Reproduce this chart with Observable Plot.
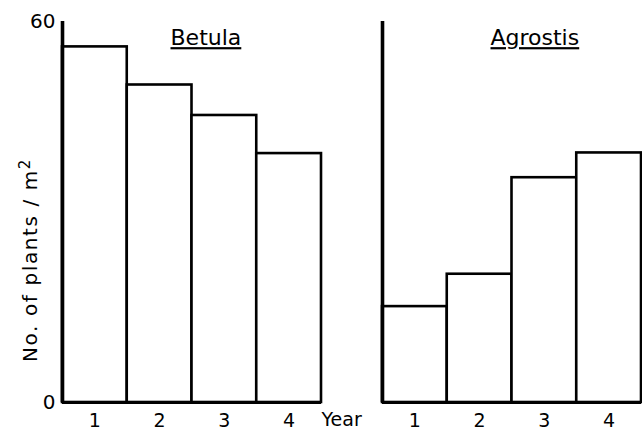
<!DOCTYPE html>
<html>
<head>
<meta charset="utf-8">
<script src="https://cdn.jsdelivr.net/npm/d3@7"></script>
<script src="https://cdn.jsdelivr.net/npm/@observablehq/plot@0.6"></script>
<style>
  html, body { margin: 0; padding: 0; background: #fff; }
</style>
</head>
<body>
<div id="chart"></div>
<script>
const species = ["Betula", "Agrostis"];
const years = [1, 2, 3, 4];
const betula = [56.0, 50.0, 45.2, 39.2];
const agrostis = [15.1, 20.2, 35.4, 39.3];
const yTicks = [0, 60];
const yLabel = "No. of plants / m";
const yLabelSup = "2";
const xLabel = "Year";

const values = {Betula: betula, Agrostis: agrostis};
const data = species.flatMap(s => years.map((yr, i) => ({species: s, year: yr, value: values[s][i]})));
const titles = species.map(s => ({species: s, text: s}));

const font = "DejaVu Sans";

const chart = Plot.plot({
  width: 642,
  height: 432,
  marginTop: 21,
  marginBottom: 30,
  marginLeft: 62,
  marginRight: 1,
  style: {fontFamily: font, fontSize: "20px", background: "#fff", color: "#000"},
  fx: {domain: species, paddingInner: 0.191, paddingOuter: 0, axis: null},
  x: {domain: [0.5, 4.5]},
  y: {domain: [0, 60]},
  marks: [
    Plot.rectY(data, {fx: "species", x1: d => d.year - 0.5, x2: d => d.year + 0.5, y: "value", fill: "white", stroke: "black", strokeWidth: 2.6}),
    Plot.ruleY([0], {stroke: "black", strokeWidth: 3}),
    Plot.ruleX([0.5], {y1: 0, y2: 60, stroke: "black", strokeWidth: 3.6}),
    Plot.axisY({ticks: yTicks, tickSize: 0, tickPadding: 7, label: null, fontSize: 20}),
    Plot.axisX({ticks: years, tickSize: 0, tickPadding: 11, label: null, fontSize: 19, tickFormat: d => String(d)}),
    Plot.text([{species: "Betula", text: yLabel}], {fx: "species", text: "text", frameAnchor: "left", rotate: -90, dx: -32, dy: 48, fontSize: 20, textAnchor: "middle", fill: "black"}),
    Plot.text([{species: "Betula", text: xLabel}], {fx: "species", text: "text", frameAnchor: "bottom-right", textAnchor: "start", lineAnchor: "top", dx: 0, dy: 10, fontSize: 19, fill: "black", clip: false}),
    Plot.text(titles, {fx: "species", text: "text", frameAnchor: "top-left", textAnchor: "start", lineAnchor: "top", dx: 108, dy: 8, fontSize: 22, fill: "black"})
  ]
});
d3.select(chart).selectAll("text")
  .filter(function() { return species.includes(this.textContent); })
  .style("text-decoration", "underline");
d3.select(chart).selectAll("text")
  .filter(function() { return this.textContent === yLabel; })
  .attr("letter-spacing", "1.6px")
  .append("tspan")
  .attr("dy", "-0.45em")
  .attr("font-size", "15px")
  .text(yLabelSup);
document.getElementById("chart").appendChild(chart);
</script>
</body>
</html>
